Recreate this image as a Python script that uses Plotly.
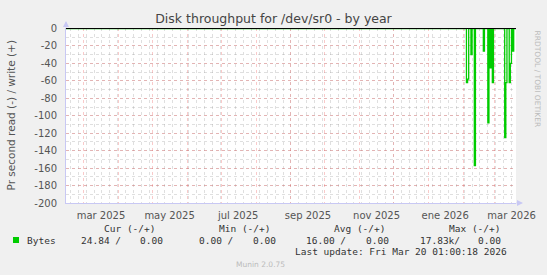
import plotly.graph_objects as go
import pandas as pd

# ---- data ----
start_time = "2025-02-13 01:00:18"
end_time = "2026-03-20 01:00:18"
spike_dates = ["2026-02-04", "2026-02-05", "2026-02-08", "2026-02-11", "2026-02-19",
               "2026-02-23", "2026-02-25", "2026-02-27", "2026-03-10", "2026-03-11",
               "2026-03-14", "2026-03-15", "2026-03-17"]
spike_values = [-62, -58, -30, -157, -26, -108, -45, -62, -125, -62, -62, -40, -26]
write_values = [0, 0]

month_ticks = ["2025-03-01", "2025-04-01", "2025-05-01", "2025-06-01", "2025-07-01",
               "2025-08-01", "2025-09-01", "2025-10-01", "2025-11-01", "2025-12-01",
               "2026-01-01", "2026-02-01", "2026-03-01"]
month_labels = ["mar 2025", "", "may 2025", "", "jul 2025", "", "sep 2025", "",
                "nov 2025", "", "ene 2026", "", "mar 2026"]
y_ticks = [0, -20, -40, -60, -80, -100, -120, -140, -160, -180, -200]
y_labels = ["0", "-20", "-40", "-60", "-80", "-100", "-120", "-140", "-160", "-180", "-200"]

stat_headers = ["Cur (-/+)", "Min (-/+)", "Avg (-/+)", "Max (-/+)"]
stat_neg = ["24.84 /", "0.00 /", "16.00 /", "17.83k/"]
stat_pos = ["0.00", "0.00", "0.00", "0.00"]
series_name = "Bytes"
last_update = "Last update: Fri Mar 20 01:00:18 2026"

# daily series (zero baseline with read spikes)
days = pd.date_range(pd.Timestamp(start_time).normalize(), pd.Timestamp(end_time).normalize(), freq="D")
read = pd.Series(0.0, index=days)
for d, v in zip(spike_dates, spike_values):
    read[pd.Timestamp(d)] = v

# ---- geometry helpers ----
L, R, T, B = 66, 516, 28, 203
W, H = 547, 275
def px(x):
    return (x - L) / (R - L)
def py(y):
    return (B - y) / (B - T)

fig = go.Figure()
fig.add_trace(go.Scatter(x=read.index, y=read.values, mode="lines",
                         line=dict(color="#00cc00", width=1.3, shape="hv"),
                         hoverinfo="skip", showlegend=False))
fig.add_trace(go.Scatter(x=[start_time, end_time], y=write_values, mode="lines",
                         line=dict(color="#000000", width=1),
                         hoverinfo="skip", showlegend=False))

grid_red = "rgba(235,90,90,0.32)"
grid_gray = "rgba(150,150,150,0.3)"
axis_col = "#c8c8f4"
txt = "#555555"

fig.update_layout(
    width=W, height=H,
    margin=dict(l=L, r=W - R, t=T, b=H - B),
    paper_bgcolor="#f0f0f0", plot_bgcolor="#ffffff",
    font=dict(family="DejaVu Sans", color=txt),
    title=dict(text="Disk throughput for /dev/sr0 - by year", x=0.5, xref="container",
               y=1 - 19 / H, yref="container", xanchor="center", yanchor="middle",
               font=dict(family="DejaVu Sans", size=12.5, color="#444444")),
    xaxis=dict(type="date", range=[start_time, end_time],
               tickmode="array", tickvals=month_ticks, ticktext=month_labels,
               ticklabelshift=17, ticks="", ticklabelstandoff=3,
               tickfont=dict(size=10, color=txt),
               showgrid=True, gridcolor=grid_red, griddash="dot", gridwidth=1,
               minor=dict(dtick=7 * 86400000, tick0="2025-02-17", showgrid=True,
                          gridcolor=grid_gray, griddash="dot", gridwidth=1),
               showline=True, linecolor=axis_col, linewidth=1, zeroline=False,
               fixedrange=True),
    yaxis=dict(range=[-200, 0.6], tickmode="array", tickvals=y_ticks, ticktext=y_labels,
               ticks="", ticklabelstandoff=6, tickfont=dict(size=10, color=txt),
               showgrid=True, gridcolor=grid_red, griddash="dot", gridwidth=1,
               minor=dict(dtick=10, tick0=0, showgrid=True, gridcolor=grid_gray,
                          griddash="dot", gridwidth=1),
               showline=True, linecolor=axis_col, linewidth=1, zeroline=False,
               fixedrange=True),
)

ann = []
ann.append(dict(x=px(10), y=0.5, xref="paper", yref="paper", text="Pr second read (-) / write (+)",
                textangle=-90, showarrow=False, font=dict(size=10.5, color=txt),
                xanchor="center", yanchor="middle"))
ann.append(dict(x=px(537), y=py(28), xref="paper", yref="paper", text="RRDTOOL / TOBI OETIKER",
                textangle=90, showarrow=False, font=dict(size=7.5, color="#bbbbbb"),
                xanchor="center", yanchor="top"))
ann.append(dict(x=px(66), y=py(21), xref="paper", yref="paper", ax=0, ay=8, text="",
                showarrow=True, arrowhead=2, arrowsize=1.2, arrowwidth=1, arrowcolor=axis_col))
ann.append(dict(x=px(523), y=py(203), xref="paper", yref="paper", ax=-8, ay=0, text="",
                showarrow=True, arrowhead=2, arrowsize=1.2, arrowwidth=1, arrowcolor=axis_col))

mono = dict(family="DejaVu Sans Mono", size=9.5, color="#333333")
head_right = [157, 272, 387, 502]
neg_right = [123, 235, 348, 462]
pos_right = [165, 278, 391, 503]
for h, xr in zip(stat_headers, head_right):
    ann.append(dict(x=px(xr), y=py(228), xref="paper", yref="paper", text=h, showarrow=False,
                    font=mono, xanchor="right", yanchor="middle"))
for v, xr in zip(stat_neg, neg_right):
    ann.append(dict(x=px(xr), y=py(240), xref="paper", yref="paper", text=v, showarrow=False,
                    font=mono, xanchor="right", yanchor="middle"))
for v, xr in zip(stat_pos, pos_right):
    ann.append(dict(x=px(xr), y=py(240), xref="paper", yref="paper", text=v, showarrow=False,
                    font=mono, xanchor="right", yanchor="middle"))
ann.append(dict(x=px(25), y=py(240), xref="paper", yref="paper", text=series_name, showarrow=False,
                font=mono, xanchor="left", yanchor="middle"))
ann.append(dict(x=px(509), y=py(251.5), xref="paper", yref="paper", text=last_update, showarrow=False,
                font=mono, xanchor="right", yanchor="middle"))
ann.append(dict(x=px(260), y=py(264), xref="paper", yref="paper", text="Munin 2.0.75", showarrow=False,
                font=dict(family="DejaVu Sans", size=7.5, color="#bbbbbb"),
                xanchor="center", yanchor="middle"))
fig.update_layout(annotations=ann)

fig.add_shape(type="rect", xref="paper", yref="paper", x0=px(13), x1=px(19), y0=py(243), y1=py(237),
              fillcolor="#00cc00", line=dict(width=0))

fig.write_html("out.html", config={"displayModeBar": False})
